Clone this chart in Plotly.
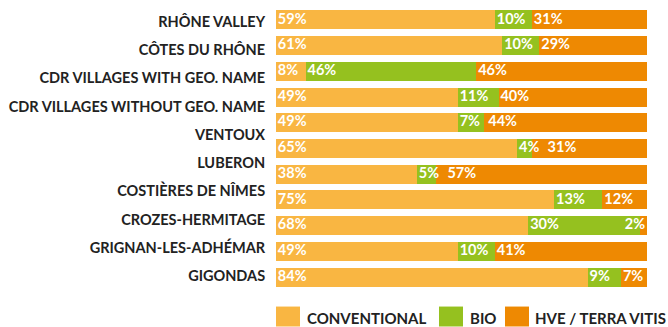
import plotly.graph_objects as go

# Appellation labels shown on the left
regions = [
    "RHÔNE VALLEY", "CÔTES DU RHÔNE", "CDR VILLAGES WITH GEO. NAME",
    "CDR VILLAGES WITHOUT GEO. NAME", "VENTOUX", "LUBERON",
    "COSTIÈRES DE NÎMES", "CROZES-HERMITAGE", "GRIGNAN-LES-ADHÉMAR", "GIGONDAS",
]

# Share of vineyard area per bar row (%)
conventional = [59, 61, 8, 49, 49, 65, 38, 75, 68, 49, 84]
bio = [10, 10, 46, 11, 7, 4, 5, 13, 30, 10, 9]
hve = [31, 29, 46, 40, 44, 31, 57, 12, 2, 41, 7]

series_names = ["CONVENTIONAL", "BIO", "HVE / TERRA VITIS"]
colors = ["#F9B642", "#95C11F", "#EE8902"]

FONT = "Lato"
rows = list(range(len(conventional)))

fig = go.Figure()

for name, vals, col in zip(series_names, [conventional, bio, hve], colors):
    fig.add_trace(go.Bar(
        y=rows, x=vals, orientation="h", name=name,
        marker=dict(color=col, line=dict(width=0)),
        hoverinfo="skip", showlegend=False,
    ))

# Value labels: start of each segment, nudged right to avoid overlapping the previous label
PX_PER_UNIT = 371 / 100
PAD = 0.5


def text_units(s):
    digits = sum(c.isdigit() for c in s)
    return (8.2 * digits + 11.5) / PX_PER_UNIT


lx, ly, lt, lp = [], [], [], []
for r in rows:
    start = 0
    prev_end = -10
    for vals in (conventional, bio, hve):
        v = vals[r]
        s = f"{v}%"
        w = text_units(s)
        x = max(start + PAD, prev_end + 2.4)
        if x + w > 100:
            lx.append(100 - 0.5)
            lp.append("middle left")
        else:
            lx.append(x)
            lp.append("middle right")
        ly.append(r)
        lt.append(s)
        prev_end = x + w
        start += v

fig.add_trace(go.Scatter(
    x=lx, y=ly, text=lt, mode="text", textposition=lp,
    textfont=dict(family=FONT, size=14.5, color="white", weight=700),
    hoverinfo="skip", showlegend=False, cliponaxis=False,
))

# Invisible carrier so the label axis is drawn
fig.add_trace(go.Scatter(
    x=[0] * len(regions), y=list(range(len(regions))), mode="markers",
    marker=dict(opacity=0), yaxis="y2", hoverinfo="skip", showlegend=False,
))

top, bottom = 6.6, 290.4
plot_h = bottom - top
label_first, label_pitch = 21.5, (276.5 - 21.5) / (len(regions) - 1)
y2_lo = -(label_first - top) / label_pitch
y2_hi = (len(regions) - 1) + (bottom - 276.5) / label_pitch

fig.update_layout(
    width=668, height=327,
    margin=dict(l=276, r=21, t=top, b=327 - bottom, autoexpand=False),
    paper_bgcolor="white", plot_bgcolor="white",
    barmode="stack", bargap=0.264,
    font=dict(family=FONT, color="#222222"),
    xaxis=dict(range=[0, 100], showgrid=False, zeroline=False, automargin=False,
               showticklabels=False, fixedrange=True),
    yaxis=dict(range=[len(rows) - 0.5, -0.5], showgrid=False, zeroline=False,
               automargin=False, showticklabels=False, fixedrange=True),
    yaxis2=dict(overlaying="y", side="left", range=[y2_hi, y2_lo],
                tickvals=list(range(len(regions))), ticktext=regions,
                tickfont=dict(family=FONT, size=14.5, color="#222222", weight=700),
                ticks="outside", ticklen=7, tickcolor="rgba(0,0,0,0)",
                automargin=False, showgrid=False, zeroline=False,
                showline=False, fixedrange=True),
    showlegend=False,
)

# Legend drawn as swatches with labels below the plot (pixel positions)
legend_items = [(276, 300, 306), (439, 463, 469), (505, 529, 534)]
for (x0, x1, tx), name, col in zip(legend_items, series_names, colors):
    fig.add_shape(type="rect", xref="paper", yref="paper",
                  x0=(x0 - 276) / 371, x1=(x1 - 276) / 371,
                  y0=(bottom - 327) / plot_h, y1=(bottom - 307) / plot_h,
                  line=dict(width=0), fillcolor=col, layer="above")
    fig.add_annotation(xref="paper", yref="paper", x=(tx - 276) / 371,
                       y=(bottom - 318.5) / plot_h, text=name, showarrow=False,
                       xanchor="left", yanchor="middle", borderpad=0,
                       font=dict(family=FONT, size=15, color="#222222", weight=700))

fig.write_html("out.html")
